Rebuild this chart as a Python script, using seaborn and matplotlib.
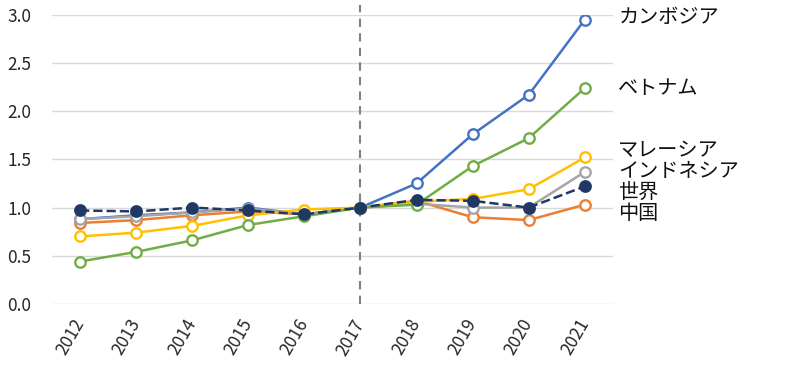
import matplotlib
matplotlib.use("Agg")
import matplotlib.pyplot as plt
import seaborn as sns
import pandas as pd

years = ["2012", "2013", "2014", "2015", "2016", "2017", "2018", "2019", "2020", "2021"]
cambodia = [0.88, 0.92, 0.95, 1.00, 0.93, 1.00, 1.25, 1.76, 2.17, 2.95]
china = [0.84, 0.87, 0.92, 0.96, 0.93, 1.00, 1.07, 0.90, 0.87, 1.03]
indonesia = [0.88, 0.91, 0.95, 0.99, 0.93, 1.00, 1.04, 1.00, 1.00, 1.37]
malaysia = [0.70, 0.74, 0.81, 0.92, 0.98, 1.00, 1.06, 1.09, 1.19, 1.52]
vietnam = [0.44, 0.54, 0.66, 0.82, 0.91, 1.00, 1.03, 1.43, 1.72, 2.24]
world = [0.97, 0.96, 1.00, 0.97, 0.93, 1.00, 1.08, 1.07, 1.00, 1.22]

series_names = ["カンボジア", "中国", "インドネシア", "マレーシア", "ベトナム", "世界"]
series_values = [cambodia, china, indonesia, malaysia, vietnam, world]
colors = ["#4472C4", "#ED7D31", "#A5A5A5", "#FFC000", "#70AD47", "#203864"]

label_names = ["カンボジア", "ベトナム", "マレーシア", "インドネシア", "世界", "中国"]
label_y = [2.97, 2.24, 1.59, 1.37, 1.16, 0.94]

sns.set_theme(style="white")
plt.rcParams["font.family"] = ["Noto Sans CJK JP", "DejaVu Sans"]

fig = plt.figure(figsize=(8, 3.72), dpi=100)
ax = fig.add_axes([0.065, 0.183, 0.701, 0.777])

xpos = list(range(len(years)))
for name, vals, col in zip(series_names, series_values, colors):
    df = pd.DataFrame({"x": xpos, "y": vals})
    is_world = name == "世界"
    sns.lineplot(
        data=df, x="x", y="y", ax=ax, color=col, linewidth=1.8,
        linestyle="--" if is_world else "-",
        marker="o", markersize=7.5,
        markerfacecolor=col if is_world else "white",
        markeredgecolor=col, markeredgewidth=1.7,
        zorder=5 if is_world else 3, legend=False,
    )

ax.set_xlim(-0.5, len(years) - 0.5)
ax.set_ylim(0, 3.0)
yt = [0.0, 0.5, 1.0, 1.5, 2.0, 2.5, 3.0]
ax.set_yticks(yt)
ax.set_yticklabels([f"{v:.1f}" for v in yt], fontsize=12.5)
ax.set_xticks(xpos)
ax.set_xticklabels(years, rotation=60, fontsize=12.5, ha="right", va="center",
                   rotation_mode="anchor")
ax.tick_params(axis="x", pad=12, length=0)
ax.tick_params(axis="y", pad=15, length=0)
ax.set_xlabel("")
ax.set_ylabel("")
ax.grid(axis="y", color="#D9D9D9", linewidth=1.0)
ax.set_axisbelow(True)
for s in ax.spines.values():
    s.set_visible(False)

ax.plot([5, 5], [0, 3.1], color="#808080", linestyle=(0, (4, 3)), linewidth=1.5, clip_on=False, zorder=2)

for name, y in zip(label_names, label_y):
    ax.text(9.6, y, name, fontsize=14.5, va="center", ha="left", color="#111111", clip_on=False)

fig.savefig("out.png", dpi=100)
